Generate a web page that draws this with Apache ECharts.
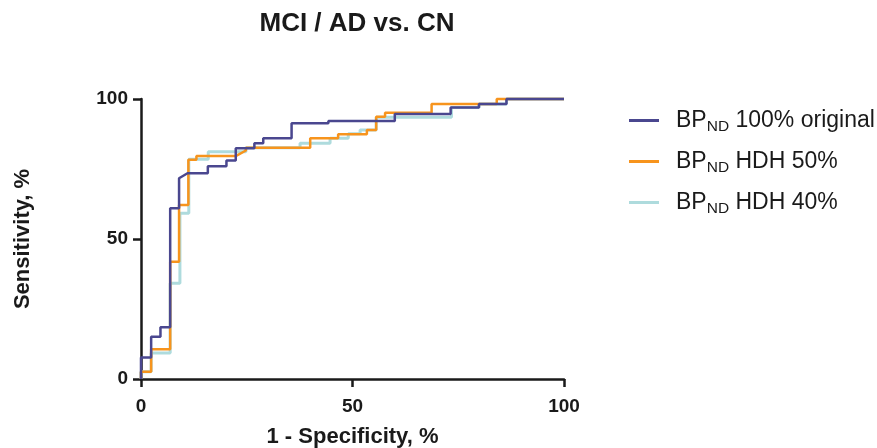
<!DOCTYPE html>
<html>
<head>
<meta charset="utf-8">
<script src="https://cdn.jsdelivr.net/npm/echarts@6/dist/echarts.min.js"></script>
<style>
  html, body { margin: 0; padding: 0; background: #fff; }
  #chart { width: 877px; height: 448px; }
</style>
</head>
<body>
<div id="chart"></div>
<script>
// ROC vertices (1 - specificity %, sensitivity %)
const origX = [0, 0, 2.4, 2.4, 4.6, 4.6, 6.9, 6.9, 9.0, 9.0, 11.0, 15.8, 15.8, 20.2, 20.2, 22.4, 22.4, 26.8, 26.8, 28.9, 28.9, 35.6, 35.6, 44.3, 44.3, 60.0, 60.0, 73.2, 73.2, 79.9, 79.9, 86.4, 86.4, 100];
const origY = [0, 7.7, 7.7, 15.1, 15.1, 18.5, 18.5, 61.0, 61.0, 71.7, 73.5, 73.5, 76.0, 76.0, 78.0, 78.0, 82.4, 82.4, 84.2, 84.2, 86.0, 86.0, 91.3, 91.3, 92.1, 92.1, 94.6, 94.6, 97.0, 97.0, 98.2, 98.2, 100, 100];

const hdh50X = [0, 0, 2.4, 2.4, 6.9, 6.9, 9.0, 9.0, 11.2, 11.2, 13.1, 13.1, 22.4, 24.8, 24.8, 40.0, 40.0, 46.6, 46.6, 53.4, 53.4, 55.6, 55.6, 57.7, 57.7, 68.7, 68.7, 84.1, 84.1, 100];
const hdh50Y = [0, 2.6, 2.6, 10.6, 10.6, 41.9, 41.9, 62.1, 62.1, 78.3, 78.3, 79.6, 79.6, 81.6, 82.6, 82.6, 86.0, 86.0, 87.4, 87.4, 88.9, 88.9, 93.7, 93.7, 95.1, 95.1, 98.2, 98.2, 100, 100];

const hdh40X = [0, 0, 2.4, 2.4, 6.9, 6.9, 9.2, 9.2, 11.3, 11.3, 15.9, 15.9, 24.8, 24.8, 37.6, 37.6, 44.7, 44.7, 49.0, 49.0, 51.8, 51.8, 55.6, 55.6, 73.4, 73.4, 79.9, 79.9, 86.4, 86.4, 100];
const hdh40Y = [0, 2.6, 2.6, 9.3, 9.3, 34.2, 34.2, 59.2, 59.2, 78.5, 78.5, 81.2, 81.2, 82.6, 82.6, 84.2, 84.2, 86.0, 86.0, 87.6, 87.6, 88.9, 88.9, 93.5, 93.5, 97.0, 97.0, 98.2, 98.2, 100, 100];

const axisTicks = [0, 50, 100];
const seriesNames = ['BP_ND 100% original', 'BP_ND HDH 50%', 'BP_ND HDH 40%'];
const legendText = {
  'BP_ND 100% original': '{b|BP}{s|ND}{b| 100% original}',
  'BP_ND HDH 50%': '{b|BP}{s|ND}{b| HDH 50%}',
  'BP_ND HDH 40%': '{b|BP}{s|ND}{b| HDH 40%}'
};

const pairs = (xs, ys) => xs.map((x, i) => [x, ys[i]]);

const font = 'Liberation Sans, Arial, Helvetica, sans-serif';

const axisCommon = {
  type: 'value',
  min: axisTicks[0],
  max: axisTicks[axisTicks.length - 1],
  interval: axisTicks[1] - axisTicks[0],
  nameLocation: 'middle',
  nameTextStyle: { fontFamily: font, fontWeight: 'bold', fontSize: 22, color: '#1a1a1a' },
  axisLine: { show: true, lineStyle: { color: '#1a1a1a', width: 2.5 } },
  axisTick: { show: true, length: 8, lineStyle: { color: '#1a1a1a', width: 2.5 } },
  axisLabel: { fontFamily: font, fontWeight: 'bold', fontSize: 19, color: '#1a1a1a' },
  splitLine: { show: false }
};

const chart = echarts.init(document.getElementById('chart'));
chart.setOption({
  animation: false,
  backgroundColor: '#fff',
  title: {
    text: 'MCI / AD vs. CN',
    left: 352,
    textAlign: 'center',
    top: 6,
    textStyle: { fontFamily: font, fontWeight: 'bold', fontSize: 26, color: '#1a1a1a' }
  },
  grid: { left: 141, right: 313, top: 99, bottom: 69, containLabel: false, outerBoundsMode: 'none' },
  xAxis: Object.assign({}, axisCommon, {
    name: '1 - Specificity, %',
    nameGap: 47,
    axisLabel: Object.assign({}, axisCommon.axisLabel, { margin: 18 })
  }),
  yAxis: Object.assign({}, axisCommon, {
    name: 'Sensitivity, %',
    nameGap: 107,
    axisLabel: Object.assign({}, axisCommon.axisLabel, { margin: 13 })
  }),
  legend: {
    orient: 'vertical',
    left: 624,
    top: 101,
    icon: 'rect',
    itemWidth: 30,
    itemHeight: 3,
    itemGap: 12,
    data: seriesNames,
    formatter: name => legendText[name],
    textStyle: {
      padding: [0, 0, 0, 12],
      rich: {
        b: { fontFamily: font, fontSize: 23, lineHeight: 23, color: '#1a1a1a' },
        s: { fontFamily: font, fontSize: 15.5, lineHeight: 15, color: '#1a1a1a', padding: [13, 0, 0, 0] }
      }
    }
  },
  series: [
    {
      name: seriesNames[0], type: 'line', data: pairs(origX, origY),
      showSymbol: false, symbol: 'none', clip: false, z: 4,
      lineStyle: { color: '#4a478f', width: 2.5 }, itemStyle: { color: '#4a478f' }
    },
    {
      name: seriesNames[1], type: 'line', data: pairs(hdh50X, hdh50Y),
      showSymbol: false, symbol: 'none', clip: false, z: 3,
      lineStyle: { color: '#f7941d', width: 2.5 }, itemStyle: { color: '#f7941d' }
    },
    {
      name: seriesNames[2], type: 'line', data: pairs(hdh40X, hdh40Y),
      showSymbol: false, symbol: 'none', clip: false, z: 2,
      lineStyle: { color: '#aedbdd', width: 3 }, itemStyle: { color: '#aedbdd' }
    }
  ]
});
</script>
</body>
</html>
